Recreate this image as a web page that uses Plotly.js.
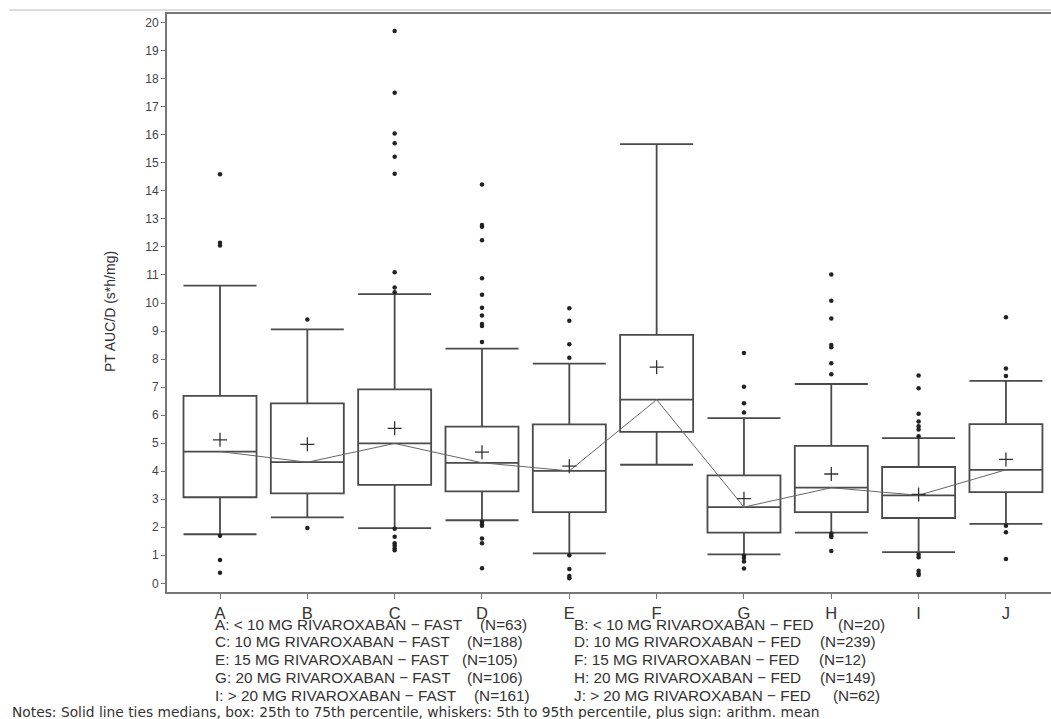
<!DOCTYPE html>
<html>
<head>
<meta charset="utf-8">
<script src="https://cdn.plot.ly/plotly-3.0.1.min.js"></script>
<style>html,body{margin:0;padding:0;background:#fff;}#chart{width:1051px;height:719px;}</style>
</head>
<body>
<div id="chart"></div>
<script>
// Categories
var categories = ["A","B","C","D","E","F","G","H","I","J"];
// Box statistics (25th, median, 75th, 5th, 95th percentile, mean)
var q1     = [3.07, 3.21, 3.51, 3.28, 2.54, 5.40, 1.81, 2.54, 2.33, 3.25];
var median = [4.70, 4.32, 4.99, 4.30, 4.01, 6.55, 2.72, 3.41, 3.14, 4.05];
var q3     = [6.69, 6.42, 6.92, 5.59, 5.67, 8.86, 3.85, 4.90, 4.15, 5.68];
var p5     = [1.75, 2.35, 1.97, 2.25, 1.07, 4.23, 1.03, 1.81, 1.11, 2.12];
var p95    = [10.62, 9.06, 10.32, 8.37, 7.84, 15.67, 5.89, 7.11, 5.18, 7.22];
var means  = [5.12, 4.96, 5.53, 4.68, 4.18, 7.71, 3.02, 3.90, 3.17, 4.42];
// Outliers per category
var outA = [14.59, 12.15, 12.05, 1.70, 0.83, 0.38];
var outB = [9.41, 1.97];
var outC = [19.7, 17.5, 16.05, 15.70, 15.22, 14.61, 11.10, 10.55, 10.38, 1.95, 1.66, 1.43, 1.35, 1.25, 1.18];
var outD = [14.23, 12.78, 12.72, 12.24, 10.88, 10.29, 9.83, 9.55, 9.25, 9.18, 8.61, 2.2, 2.1, 2.05, 1.6, 1.43, 0.54];
var outE = [9.81, 9.37, 8.53, 8.05, 1.0, 0.51, 0.26, 0.18];
var outF = [];
var outG = [8.22, 7.01, 6.42, 6.09, 0.98, 0.90, 0.78, 0.53];
var outH = [11.02, 10.08, 9.45, 8.50, 8.42, 7.85, 7.46, 1.78, 1.70, 1.65, 1.15];
var outI = [7.41, 6.96, 6.05, 5.77, 5.60, 5.49, 5.25, 1.03, 0.93, 0.45, 0.35, 0.30];
var outJ = [9.49, 7.66, 7.40, 2.05, 1.82, 0.87];
var outliers = [outA, outB, outC, outD, outE, outF, outG, outH, outI, outJ];
// Legend lines
var legendLeft  = ["A: < 10 MG RIVAROXABAN \u2212 FAST", "C: 10 MG RIVAROXABAN \u2212 FAST", "E: 15 MG RIVAROXABAN \u2212 FAST", "G: 20 MG RIVAROXABAN \u2212 FAST", "I: > 20 MG RIVAROXABAN \u2212 FAST"];
var legendLeftN = ["(N=63)", "(N=188)", "(N=105)", "(N=106)", "(N=161)"];
var legendRight  = ["B: < 10 MG RIVAROXABAN \u2212 FED", "D: 10 MG RIVAROXABAN \u2212 FED", "F: 15 MG RIVAROXABAN \u2212 FED", "H: 20 MG RIVAROXABAN \u2212 FED", "J: > 20 MG RIVAROXABAN \u2212 FED"];
var legendRightN = ["(N=20)", "(N=239)", "(N=12)", "(N=149)", "(N=62)"];
var notesText = "Notes: Solid line ties medians, box: 25th to 75th percentile, whiskers: 5th to 95th percentile, plus sign: arithm. mean";
var yTitle = "PT AUC/D (s*h/mg)";

var pos = categories.map(function(c, i){ return i; });
var lineCol = "#4a4a4a";

var traces = [];
traces.push({
  type: "box", x: pos, q1: q1, median: median, q3: q3,
  lowerfence: p5, upperfence: p95,
  boxpoints: false, width: 0.836, whiskerwidth: 1,
  line: {color: lineCol, width: 1.8}, fillcolor: "rgba(0,0,0,0)",
  showlegend: false, hoverinfo: "skip"
});
traces.push({
  type: "scatter", mode: "lines", x: pos, y: median,
  line: {color: "#666", width: 1}, showlegend: false, hoverinfo: "skip"
});
var ox = [], oy = [];
outliers.forEach(function(arr, i){ arr.forEach(function(v){ ox.push(i); oy.push(v); }); });
traces.push({
  type: "scatter", mode: "markers", x: ox, y: oy,
  marker: {symbol: "circle", size: 4.5, color: "#222"}, showlegend: false, hoverinfo: "skip"
});
traces.push({
  type: "scatter", mode: "markers", x: pos, y: means,
  marker: {symbol: "cross-thin", size: 10, line: {color: "#333", width: 1.3}}, showlegend: false, hoverinfo: "skip"
});

var annotations = [];
var plotL = 167, plotR = 1051, plotT = 14, plotB = 592;
function px(x){ return (x - plotL) / (plotR - plotL); }
function py(y){ return (plotB - y) / (plotB - plotT); }
var rowsY = [624, 641, 659, 677, 695];
var fnt = {family: "Liberation Sans, Arial, sans-serif", size: 15.3, color: "#333"};
var nLeftX = [478, 465, 460, 465, 472];
var nRightX = [836, 818, 817, 818, 831];
for (var i = 0; i < 5; i++) {
  annotations.push({xref:"paper", yref:"paper", x: px(213), y: py(rowsY[i]), xanchor:"left", yanchor:"middle", text: legendLeft[i], showarrow:false, font: fnt});
  annotations.push({xref:"paper", yref:"paper", x: px(nLeftX[i]), y: py(rowsY[i]), xanchor:"left", yanchor:"middle", text: legendLeftN[i], showarrow:false, font: fnt});
  annotations.push({xref:"paper", yref:"paper", x: px(572), y: py(rowsY[i]), xanchor:"left", yanchor:"middle", text: legendRight[i], showarrow:false, font: fnt});
  annotations.push({xref:"paper", yref:"paper", x: px(nRightX[i]), y: py(rowsY[i]), xanchor:"left", yanchor:"middle", text: legendRightN[i], showarrow:false, font: fnt});
}
annotations.push({xref:"paper", yref:"paper", x: px(10), y: py(712), xanchor:"left", yanchor:"middle", text: notesText, showarrow:false, font: {family: "DejaVu Sans, Verdana, sans-serif", size: 13.8, color: "#333"}});
annotations.push({xref:"paper", yref:"paper", x: px(110), y: py(312), xanchor:"center", yanchor:"middle", textangle: -90, text: yTitle, showarrow:false, font: {family: "Liberation Sans, Arial, sans-serif", size: 14, color: "#333"}});

var layout = {
  width: 1051, height: 719,
  margin: {l: plotL, r: 0, t: plotT, b: 719 - plotB, pad: 0},
  paper_bgcolor: "#fff", plot_bgcolor: "#fff",
  showlegend: false,
  xaxis: {
    range: [-0.607, 9.516], tickmode: "array", tickvals: pos, ticktext: categories,
    showgrid: false, zeroline: false, showline: true, linecolor: "#777", linewidth: 2,
    mirror: true, ticks: "outside", ticklen: 5, tickwidth: 1, tickcolor: "#777",
    tickfont: {family: "Liberation Sans, Arial, sans-serif", size: 16.5, color: "#333"}
  },
  yaxis: {
    range: [-0.31, 20.31], tickmode: "linear", tick0: 0, dtick: 1,
    showgrid: false, zeroline: false, showline: true, linecolor: "#777", linewidth: 2,
    ticks: "outside", ticklen: 4, tickwidth: 1, tickcolor: "#777",
    tickfont: {family: "Liberation Sans, Arial, sans-serif", size: 12, color: "#444"}
  },
  shapes: [{type: "line", xref: "paper", yref: "paper", x0: px(9), x1: 1.0, y0: py(10), y1: py(10), line: {color: "#ddd", width: 2}}],
  annotations: annotations
};
Plotly.newPlot("chart", traces, layout, {staticPlot: true, displayModeBar: false});
</script>
</body>
</html>
